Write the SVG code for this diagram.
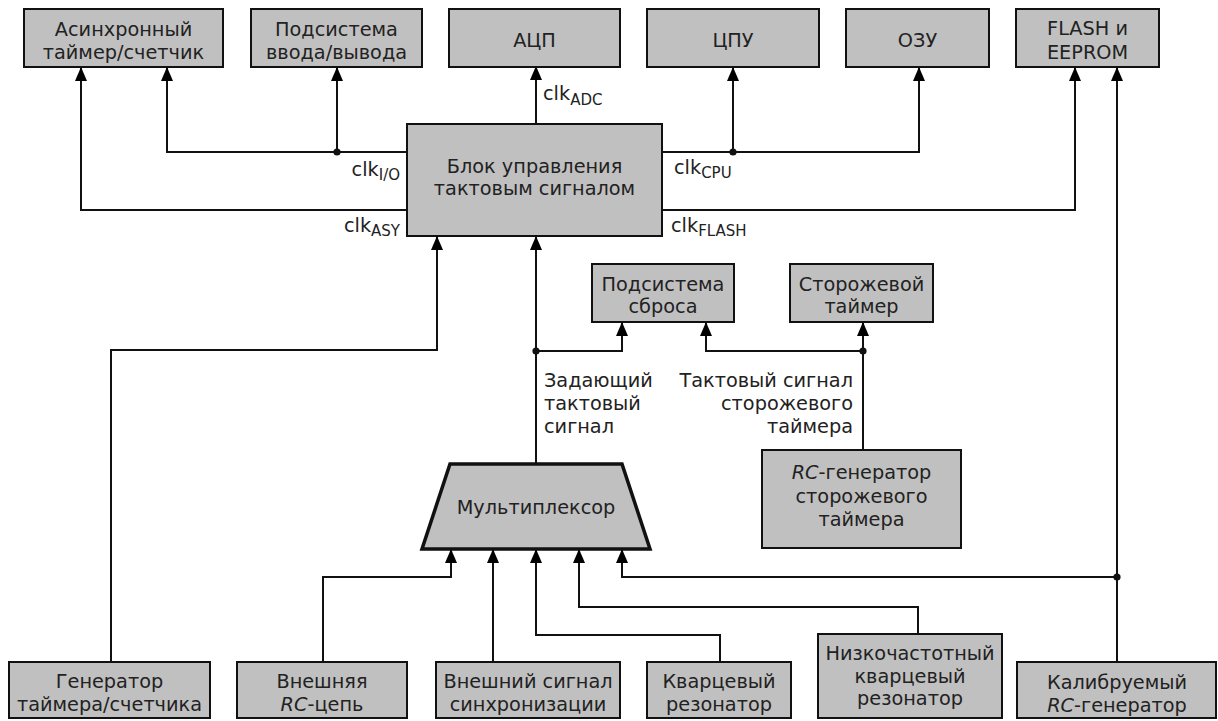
<svg xmlns="http://www.w3.org/2000/svg" width="1218" height="721" viewBox="0 0 1218 721">
  <defs>
    <marker id="arrow" markerUnits="userSpaceOnUse" markerWidth="14" markerHeight="12" viewBox="0 0 14 12" refX="13" refY="6" orient="auto">
      <path d="M0,0 L14,6 L0,12 z" fill="#000"/>
    </marker>
    <style>
      .box { fill: #c0c0c0; stroke: #111; stroke-width: 2; }
      .mux { fill: #c0c0c0; stroke: #111; stroke-width: 3.5; stroke-linejoin: miter; }
      .t { font-family: "DejaVu Sans", "Liberation Sans", sans-serif; font-size: 19.3px; fill: #222; text-anchor: middle; }
      .lbl { font-family: "DejaVu Sans", "Liberation Sans", sans-serif; font-size: 19.3px; fill: #222; }
      .sub { font-size: 15px; }
      .it { font-style: italic; }
      .wire { fill: none; stroke: #111; stroke-width: 2; }
      .arr { marker-end: url(#arrow); }
      .dot { fill: #111; }
    </style>
  </defs>
  <rect width="1218" height="721" fill="#fff"/>

  <!-- connectors -->
  <g id="connectors">
    <!-- clock outputs of the control block -->
    <path class="wire arr" d="M407,210 H81 V68"/>
    <path class="wire arr" d="M407,152 H167 V68"/>
    <path class="wire arr" d="M337,152 V68"/>
    <path class="wire arr" d="M536,124 V67"/>
    <path class="wire arr" d="M662,152 H919 V68"/>
    <path class="wire arr" d="M733,152 V68"/>
    <path class="wire arr" d="M662,210 H1075 V68"/>
    <!-- clock inputs of the control block -->
    <path class="wire arr" d="M111,662 V350 H437 V237"/>
    <path class="wire arr" d="M536,464 V237"/>
    <path class="wire arr" d="M536,351 H622 V323"/>
    <!-- watchdog clock -->
    <path class="wire arr" d="M863,450 V323"/>
    <path class="wire arr" d="M863,351 H706 V323"/>
    <!-- calibrated RC oscillator -->
    <path class="wire arr" d="M1117,662 V68"/>
    <path class="wire arr" d="M1117,577 H622 V550"/>
    <!-- multiplexer inputs -->
    <path class="wire arr" d="M323,662 V577 H451 V550"/>
    <path class="wire arr" d="M493,662 V550"/>
    <path class="wire arr" d="M720,662 V635 H536 V550"/>
    <path class="wire arr" d="M918,634 V607 H579 V550"/>
    <!-- junctions -->
    <circle class="dot" cx="337" cy="152" r="3.6"/>
    <circle class="dot" cx="733" cy="152" r="3.6"/>
    <circle class="dot" cx="536" cy="351" r="3.6"/>
    <circle class="dot" cx="863" cy="351" r="3.6"/>
    <circle class="dot" cx="1117" cy="577" r="3.6"/>
    <!-- signal labels -->
    <text class="lbl" x="400" y="176" text-anchor="end">clk<tspan class="sub" dy="4">I/O</tspan></text>
    <text class="lbl" x="400" y="232" text-anchor="end">clk<tspan class="sub" dy="4">ASY</tspan></text>
    <text class="lbl" x="543" y="100">clk<tspan class="sub" dy="5">ADC</tspan></text>
    <text class="lbl" x="674" y="174">clk<tspan class="sub" dy="4">CPU</tspan></text>
    <text class="lbl" x="671" y="232">clk<tspan class="sub" dy="4">FLASH</tspan></text>
    <text class="lbl" x="544" y="387">Задающий</text>
    <text class="lbl" x="544" y="410">тактовый</text>
    <text class="lbl" x="544" y="433">сигнал</text>
    <text class="lbl" x="853" y="387" text-anchor="end">Тактовый сигнал</text>
    <text class="lbl" x="853" y="410" text-anchor="end">сторожевого</text>
    <text class="lbl" x="853" y="433" text-anchor="end">таймера</text>
  </g>

  <!-- top row -->
  <g id="async-timer">
    <rect class="box" x="24" y="9" width="199" height="58"/>
    <text class="t" x="123.5" y="35.5">Асинхронный</text>
    <text class="t" x="123.5" y="59">таймер/счетчик</text>
  </g>
  <g id="io-subsystem">
    <rect class="box" x="251" y="9" width="171" height="58"/>
    <text class="t" x="336.5" y="35.5">Подсистема</text>
    <text class="t" x="336.5" y="59">ввода/вывода</text>
  </g>
  <g id="adc">
    <rect class="box" x="449" y="9" width="171" height="58"/>
    <text class="t" x="534.5" y="47">АЦП</text>
  </g>
  <g id="cpu">
    <rect class="box" x="647" y="9" width="172" height="58"/>
    <text class="t" x="733" y="47">ЦПУ</text>
  </g>
  <g id="ram">
    <rect class="box" x="846" y="9" width="143" height="58"/>
    <text class="t" x="917.5" y="47">ОЗУ</text>
  </g>
  <g id="flash">
    <rect class="box" x="1016" y="9" width="143" height="58"/>
    <text class="t" x="1087.5" y="35">FLASH и</text>
    <text class="t" x="1087.5" y="59">EEPROM</text>
  </g>

  <!-- clock control unit -->
  <g id="clock-control">
    <rect class="box" x="407" y="124" width="255" height="112"/>
    <text class="t" x="534.5" y="173">Блок управления</text>
    <text class="t" x="534.5" y="195">тактовым сигналом</text>
  </g>

  <!-- middle row -->
  <g id="reset-subsystem">
    <rect class="box" x="592" y="264" width="142" height="58"/>
    <text class="t" x="663" y="291">Подсистема</text>
    <text class="t" x="663" y="313">сброса</text>
  </g>
  <g id="watchdog">
    <rect class="box" x="790" y="264" width="143" height="58"/>
    <text class="t" x="861.5" y="291">Сторожевой</text>
    <text class="t" x="861.5" y="313">таймер</text>
  </g>
  <g id="watchdog-osc">
    <rect class="box" x="762" y="450" width="199" height="98"/>
    <text class="t" x="861.5" y="479"><tspan class="it">RC</tspan>-генератор</text>
    <text class="t" x="861.5" y="503">сторожевого</text>
    <text class="t" x="861.5" y="526">таймера</text>
  </g>
  <g id="multiplexer">
    <polygon class="mux" points="450,464 622,464 650,549 422,549"/>
    <text class="t" x="536" y="514">Мультиплексор</text>
  </g>

  <!-- clock sources -->
  <g id="timer-osc">
    <rect class="box" x="9" y="662" width="201" height="56"/>
    <text class="t" x="109.5" y="688">Генератор</text>
    <text class="t" x="109.5" y="711">таймера/счетчика</text>
  </g>
  <g id="ext-rc">
    <rect class="box" x="237" y="662" width="170" height="56"/>
    <text class="t" x="322" y="688">Внешняя</text>
    <text class="t" x="322" y="711"><tspan class="it">RC</tspan>-цепь</text>
  </g>
  <g id="ext-clock">
    <rect class="box" x="436" y="662" width="184" height="56"/>
    <text class="t" x="528" y="688">Внешний сигнал</text>
    <text class="t" x="528" y="711">синхронизации</text>
  </g>
  <g id="crystal">
    <rect class="box" x="647" y="662" width="144" height="56"/>
    <text class="t" x="719" y="688">Кварцевый</text>
    <text class="t" x="719" y="711">резонатор</text>
  </g>
  <g id="low-freq-crystal">
    <rect class="box" x="818" y="634" width="184" height="84"/>
    <text class="t" x="910" y="660">Низкочастотный</text>
    <text class="t" x="910" y="683">кварцевый</text>
    <text class="t" x="910" y="705">резонатор</text>
  </g>
  <g id="calibrated-rc">
    <rect class="box" x="1017" y="662" width="199" height="56"/>
    <text class="t" x="1117" y="689">Калибруемый</text>
    <text class="t" x="1117" y="712"><tspan class="it">RC</tspan>-генератор</text>
  </g>
</svg>
